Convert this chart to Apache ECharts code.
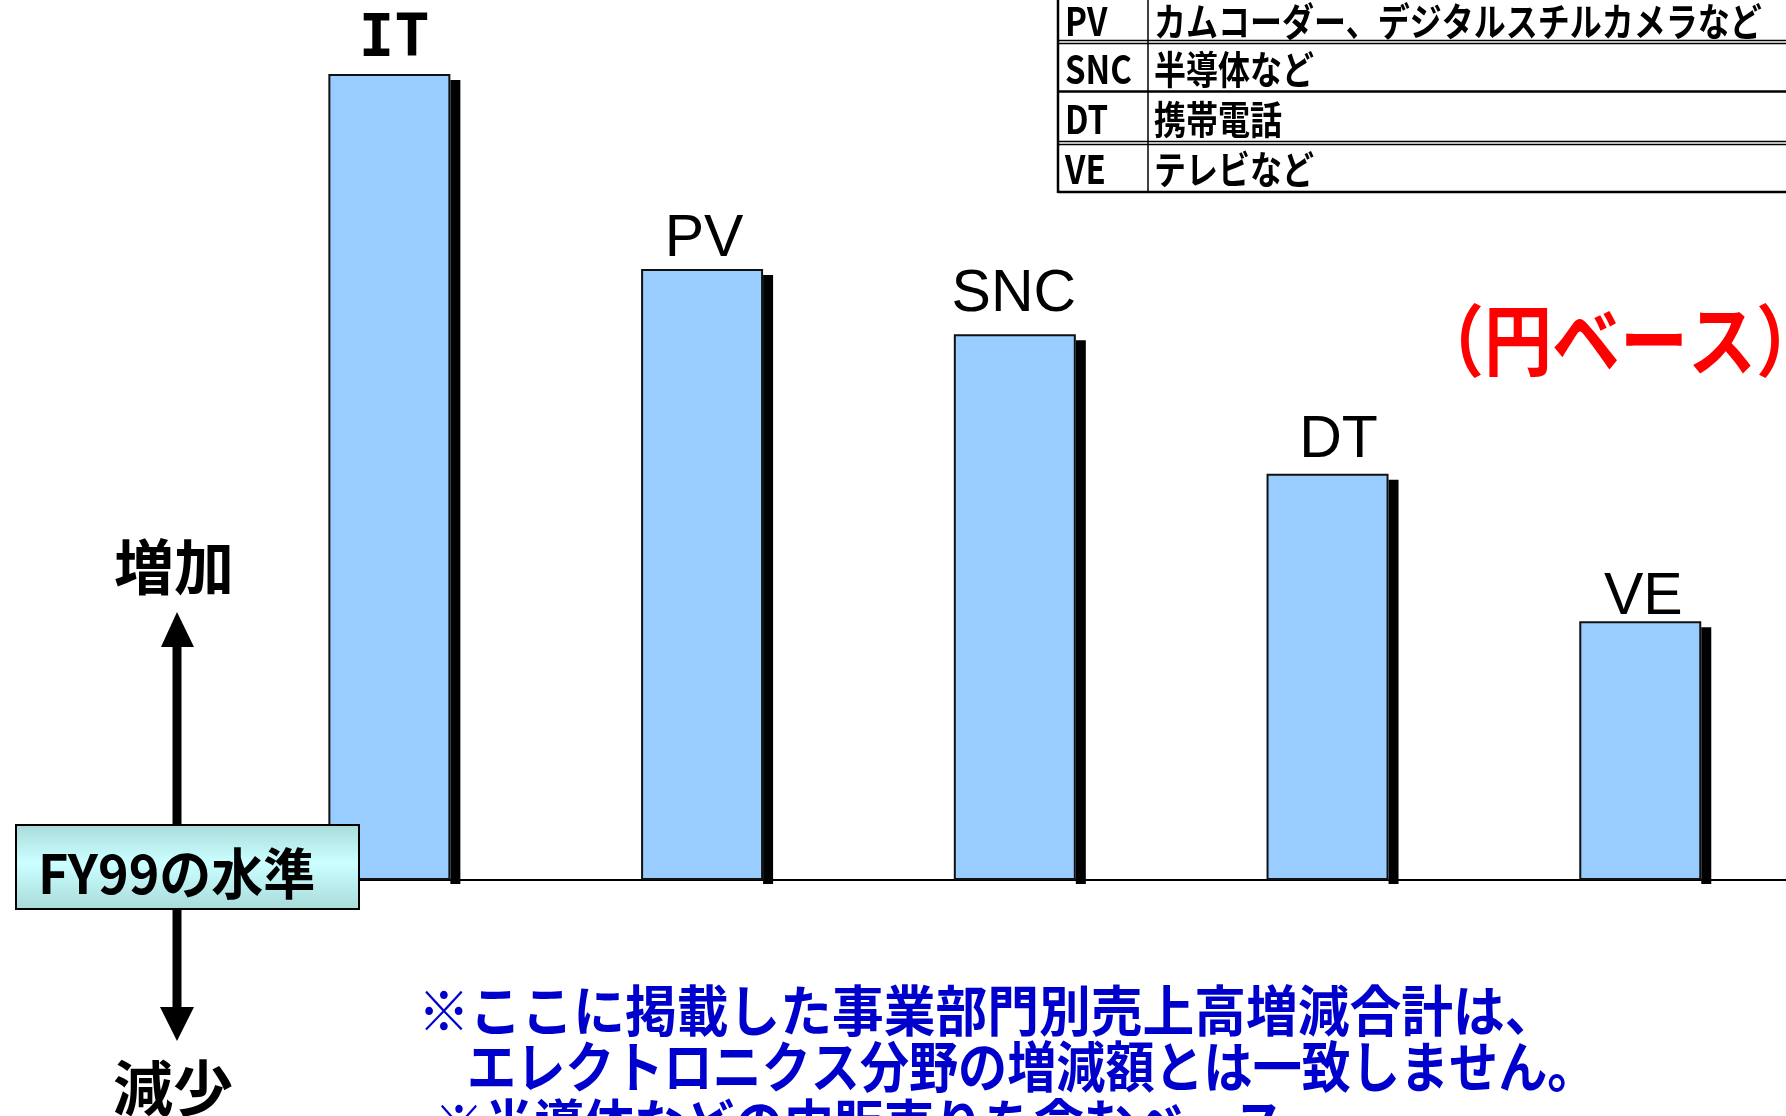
<!DOCTYPE html>
<html>
<head>
<meta charset="utf-8">
<script src="https://cdn.jsdelivr.net/npm/echarts@6/dist/echarts.min.js"></script>
<style>
html, body { margin: 0; padding: 0; background: #fff; }
#chart { width: 1786px; height: 1116px; }
</style>
</head>
<body>
<div id="chart"></div>
<script>
// business segments and their sales change since FY99 (relative units)
const categories = ['IT', 'PV', 'SNC', 'DT', 'VE']
const salesChange = [100, 75.8, 67.7, 50.4, 32.1]

// legend table, top right
const tableCodes = ['PV', 'SNC', 'DT', 'VE']
const tableDescs = ['カムコーダー、デジタルスチルカメラなど', '半導体など', '携帯電話', 'テレビなど']

// notes under the chart
const noteLines = [
  '※ここに掲載した事業部門別売上高増減合計は、',
  '　エレクトロニクス分野の増減額とは一致しません。',
  '※半導体などの内販売りを含むベース'
]

const CJK = '"Noto Sans CJK JP", "Noto Sans CJK SC", sans-serif'
const BAR_W = 122
// small hand nudges of the bar labels (they are loose text boxes in the original)
const labelNudge = [[5, 0], [2, 4], [-1, -6], [11, 0], [3, 10]]

function txt(text, x, y, size, opts) {
  opts = opts || {}
  return {
    type: 'text',
    x: x,
    y: y,
    z: 100,
    scaleX: opts.scaleX || 1,
    scaleY: opts.scaleY || 1,
    style: {
      text: text,
      fontSize: size,
      fontFamily: opts.family || CJK,
      fontWeight: opts.weight || 'bold',
      fill: opts.color || '#000',
      textAlign: opts.align || 'left',
      align: opts.align || 'left',
      textVerticalAlign: 'middle',
      verticalAlign: 'middle'
    }
  }
}

function hline(y, x1, x2, w) {
  return { type: 'line', z: 100, shape: { x1: x1, y1: y, x2: x2, y2: y }, style: { stroke: '#000', lineWidth: w } }
}
function vline(x, y1, y2, w) {
  return { type: 'line', z: 100, shape: { x1: x, y1: y1, x2: x, y2: y2 }, style: { stroke: '#000', lineWidth: w } }
}

const elements = []

// table
elements.push(vline(1058, -10, 193, 2.5))
elements.push(vline(1148, -10, 193, 1.5))
elements.push(hline(40.5, 1058, 1786, 1.5))
elements.push(hline(43.5, 1058, 1786, 1.5))
elements.push(hline(91.5, 1058, 1786, 2.5))
elements.push(hline(141.5, 1058, 1786, 1.5))
elements.push(hline(144.5, 1058, 1786, 1.5))
elements.push(hline(192, 1058, 1786, 2.5))
const rowY = [21, 69, 119, 169]
tableCodes.forEach(function (c, i) {
  elements.push(txt(c, 1065, rowY[i], 33, { scaleY: 1.2 }))
  elements.push(txt(tableDescs[i], 1154, rowY[i], 32, { scaleY: 1.2 }))
})

// (円ベース)
elements.push(txt('（円ベース）', 1416, 340, 68, { color: '#ff0000', scaleY: 1.15 }))

// up / down arrows and labels
elements.push({ type: 'rect', z: 90, shape: { x: 172.5, y: 644, width: 9, height: 182 }, style: { fill: '#000' } })
elements.push({ type: 'polygon', z: 90, shape: { points: [[177, 612], [161, 647], [194, 647]] }, style: { fill: '#000' } })
elements.push({ type: 'rect', z: 90, shape: { x: 172.5, y: 908, width: 9, height: 102 }, style: { fill: '#000' } })
elements.push({ type: 'polygon', z: 90, shape: { points: [[160, 1007], [194, 1007], [177, 1041]] }, style: { fill: '#000' } })
elements.push(txt('増加', 174, 567, 60, { align: 'center' }))
elements.push(txt('減少', 173, 1088, 60, { align: 'center' }))

// FY99 level box
elements.push({
  type: 'rect',
  z: 95,
  shape: { x: 16, y: 825, width: 343, height: 84 },
  style: {
    fill: new echarts.graphic.LinearGradient(0, 0, 0, 1, [
      { offset: 0, color: '#a8dada' },
      { offset: 0.45, color: '#ccffff' },
      { offset: 1, color: '#a8dada' }
    ]),
    stroke: '#000',
    lineWidth: 2
  }
})
elements.push(txt('FY99の水準', 38, 873, 52, { weight: 'bold', scaleY: 1.05 }))

// notes
elements.push(txt(noteLines[0], 418, 1010, 50, { color: '#0000cc', scaleX: 1.035, scaleY: 1.1 }))
elements.push(txt(noteLines[1], 418, 1066, 50, { color: '#0000cc', scaleX: 0.982, scaleY: 1.1 }))
elements.push(txt(noteLines[2], 434, 1124, 50, { color: '#0000cc', scaleY: 1.1 }))

const barData = salesChange.map(function (v, i) {
  const item = { value: [i, v], label: { offset: labelNudge[i] } }
  if (categories[i] === 'IT') {
    item.label.fontFamily = '"DejaVu Sans Mono", monospace'
    item.label.fontWeight = 'bold'
  }
  return item
})

const chart = echarts.init(document.getElementById('chart'))
chart.setOption({
  backgroundColor: '#fff',
  animation: false,
  grid: { left: 233, top: 74, right: 0, bottom: 236 },
  xAxis: {
    type: 'value',
    min: -0.5,
    max: 4.466,
    splitLine: { show: false },
    axisLine: { show: true, lineStyle: { color: '#000', width: 2 } },
    axisTick: { show: false },
    axisLabel: { show: false }
  },
  yAxis: {
    type: 'value',
    min: 0,
    max: 100,
    show: false
  },
  series: [
    {
      type: 'custom',
      z: 1,
      data: salesChange.map(function (v, i) { return [i, v] }),
      encode: { x: 0, y: 1 },
      renderItem: function (params, api) {
        const top = api.coord([api.value(0), api.value(1)])
        const base = api.coord([api.value(0), 0])
        return {
          type: 'rect',
          shape: { x: top[0] + BAR_W / 2, y: top[1] + 6, width: 10, height: base[1] - top[1] - 2 },
          style: { fill: '#000' }
        }
      }
    },
    {
      type: 'bar',
      z: 2,
      data: barData,
      barWidth: BAR_W,
      itemStyle: { color: '#99ccff', borderColor: '#111', borderWidth: 2 },
      label: {
        show: true,
        position: 'top',
        distance: 4,
        formatter: function (p) { return categories[p.dataIndex] },
        fontFamily: '"Liberation Sans", Arial, sans-serif',
        fontSize: 59,
        color: '#000'
      }
    }
  ],
  graphic: { elements: elements }
})
</script>
</body>
</html>
